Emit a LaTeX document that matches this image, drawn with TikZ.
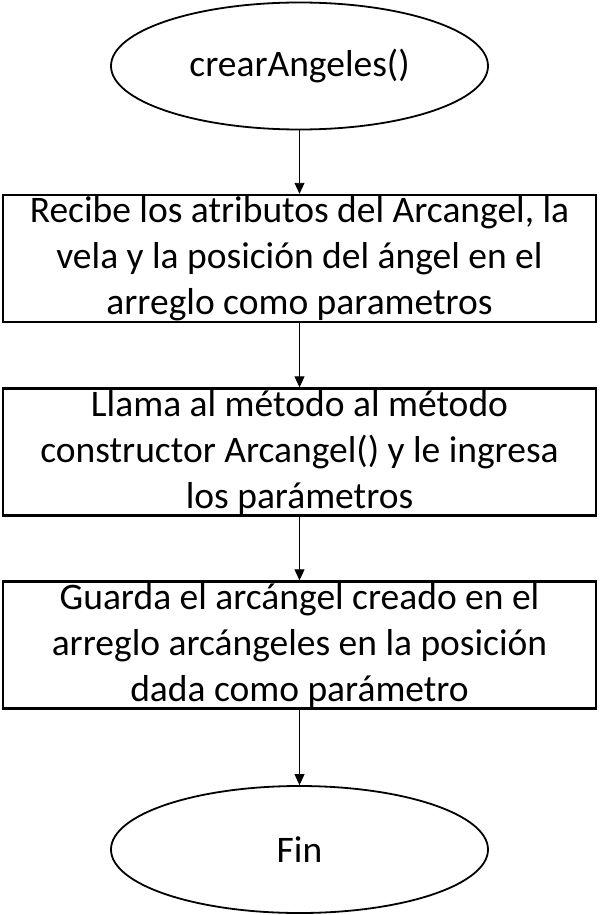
\documentclass[tikz,border=0pt]{standalone}
\usepackage{fontspec}
\setmainfont{Carlito}
\usetikzlibrary{shapes.geometric,arrows.meta}
\tikzset{
  term/.style={ellipse,draw,line width=1.8pt,minimum width=377pt,minimum height=127pt,inner sep=0pt,font=\fontsize{37.5}{46}\selectfont},
  procbox/.style={rectangle,draw,line width=2.4pt,minimum width=593pt,minimum height=127pt,inner sep=0pt,align=center,font=\fontsize{37.5}{46}\selectfont},
  flow/.style={line width=0.9pt,-{Triangle[length=11pt,width=10pt]}}
}
\begin{document}
\begin{tikzpicture}[x=1pt,y=1pt]
\useasboundingbox (0,0) rectangle (600,-915);
\node[term] (start) at (299.5,-66) {crearAngeles()};
\node[procbox] (b1) at (299.5,-258.5) {Recibe los atributos del Arcangel, la\\vela y la posición del ángel en el\\arreglo como parametros};
\node[procbox] (b2) at (299.5,-452) {Llama al método al método\\constructor Arcangel() y le ingresa\\los parámetros};
\node[procbox] (b3) at (299.5,-645) {Guarda el arcángel creado en el\\arreglo arcángeles en la posición\\dada como parámetro};
\node[term] (fin) at (299.5,-849.5) {Fin};
\draw[flow] (start) -- (b1);
\draw[flow] (b1) -- (b2);
\draw[flow] (b2) -- (b3);
\draw[flow] (b3) -- (fin);
\end{tikzpicture}
\end{document}
